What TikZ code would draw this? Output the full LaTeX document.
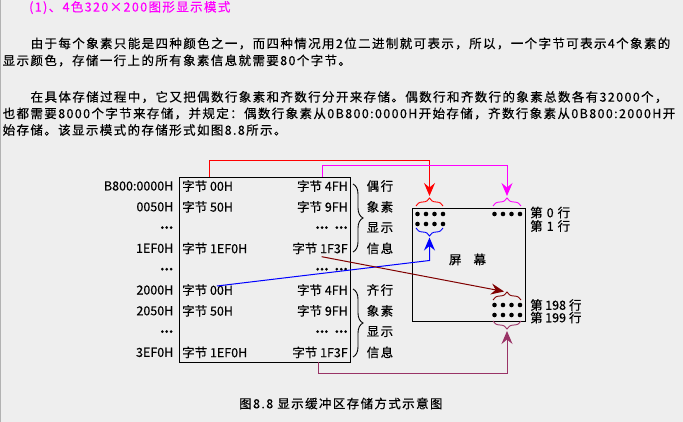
\documentclass[tikz,border=0pt]{standalone}
\usepackage{fontspec}
\setmainfont{Noto Sans CJK SC}
\newfontfamily\pfont[LetterSpace=11,FakeBold=0.4]{Noto Sans CJK SC}
\newfontfamily\dfont[FakeBold=0.4]{Noto Sans CJK SC}
\usetikzlibrary{arrows.meta,decorations.pathreplacing}
\definecolor{bg}{RGB}{238,238,238}
\definecolor{redA}{RGB}{255,0,0}
\definecolor{magA}{RGB}{255,0,255}
\definecolor{blueA}{RGB}{0,0,255}
\definecolor{maroonA}{RGB}{128,0,0}
\definecolor{plumA}{RGB}{153,51,102}
\begin{document}
\begin{tikzpicture}[x=1pt,y=-1pt,
  ptxt/.style={inner sep=0pt,anchor=west,font=\pfont\fontsize{12.5pt}{14pt}\selectfont},
  dtxt/.style={inner sep=0pt,font=\dfont\fontsize{12.5pt}{14pt}\selectfont},
  lab/.style={dtxt,anchor=east},
  inl/.style={dtxt,anchor=west},
  inr/.style={dtxt,anchor=east},
  side/.style={dtxt,anchor=west},
  boxA/.style={draw=black,line width=1pt,inner sep=0pt,anchor=north west},
  conn/.style={line width=1pt},
  tip/.style={-{Stealth[length=13pt,width=11pt,inset=4.5pt]}},
  sbrace/.style={line width=0.9pt,decorate,decoration={brace,amplitude=8pt}},
  bbrace/.style={line width=0.9pt,decorate,decoration={brace,amplitude=10pt}},
  dot/.style={fill=black}
]
\fill[bg] (0,0) rectangle (683,422);
\useasboundingbox (0,0) rectangle (683,422);
\draw[gray!60,line width=1pt] (0.5,0) -- (0.5,422);

% text
\node[ptxt,text=magA] (title) at (29,7.5) {(1)、4色320×200图形显示模式};
\node[ptxt] (p1a) at (30.5,43.5) {由于每个象素只能是四种颜色之一，而四种情况用2位二进制就可表示，所以，一个字节可表示4个象素的};
\node[ptxt] (p1b) at (2.5,60.5) {显示颜色，存储一行上的所有象素信息就需要80个字节。};
\node[ptxt] (p2a) at (30.5,97) {在具体存储过程中，它又把偶数行象素和齐数行分开来存储。偶数行和齐数行的象素总数各有32000个，};
\node[ptxt] (p2b) at (2.5,113.5) {也都需要8000个字节来存储，并规定：偶数行象素从0B800:0000H开始存储，齐数行象素从0B800:2000H开};
\node[ptxt] (p2c) at (2.5,130) {始存储。该显示模式的存储形式如图8.8所示。};

% memory box
\node[boxA,minimum width=170.5pt,minimum height=185pt] (mem) at (179,177) {};

% row labels
\node[lab] (l1) at (173.5,186) {B800:0000H};
\node[lab] (l2) at (173.5,206.8) {0050H};
\node[lab] (l3) at (173.5,227.6) {\bfseries ...};
\node[lab] (l4) at (173.5,248.4) {1EF0H};
\node[lab] (l5) at (173.5,269.2) {\bfseries ...};
\node[lab] (l6) at (173.5,290) {2000H};
\node[lab] (l7) at (173.5,310.8) {2050H};
\node[lab] (l8) at (173.5,331.6) {\bfseries ...};
\node[lab] (l9) at (173.5,352.4) {3EF0H};

\node[inl] (a1) at (182,186) {字节 00H};
\node[inl] (a2) at (182,206.8) {字节 50H};
\node[inl] (a4) at (182,248.4) {字节 1EF0H};
\node[inl] (a6) at (182,290) {字节 00H};
\node[inl] (a7) at (182,310.8) {字节 50H};
\node[inl] (a9) at (182,352.4) {字节 1EF0H};

\node[inr] (b1) at (348,186) {字节 4FH};
\node[inr] (b2) at (348,206.8) {字节 9FH};
\node[inr] (b3) at (348,227.6) {\bfseries ...\hspace{6pt}...};
\node[inr] (b4) at (348,248.4) {字节 1F3F};
\node[inr] (b5) at (348,269.2) {\bfseries ...\hspace{6pt}...};
\node[inr] (b6) at (348,290) {字节 4FH};
\node[inr] (b7) at (348,310.8) {字节 9FH};
\node[inr] (b8) at (348,331.6) {\bfseries ...\hspace{6pt}...};
\node[inr] (b9) at (348,352.4) {字节 1F3F};

% side braces and labels
\draw[bbrace] (353,184) -- (353,252);
\draw[bbrace] (353,289) -- (353,357);
\node[side] (s1) at (366.5,186) {偶\hspace{1.5pt}行};
\node[side] (s2) at (366.5,206.8) {象\hspace{1.5pt}素};
\node[side] (s3) at (366.5,227.6) {显\hspace{1.5pt}示};
\node[side] (s4) at (366.5,248.4) {信\hspace{1.5pt}息};
\node[side] (s6) at (366.5,290) {齐\hspace{1.5pt}行};
\node[side] (s7) at (366.5,310.8) {象\hspace{1.5pt}素};
\node[side] (s8) at (366.5,331.6) {显\hspace{1.5pt}示};
\node[side] (s9) at (366.5,352.4) {信\hspace{1.5pt}息};

% screen
\node[boxA,minimum width=113pt,minimum height=113pt] (scr) at (412,208) {};
\node[dtxt] (scrt) at (467.5,259.5) {屏\hspace{12pt}幕};
\foreach \x in {417.5,426,434.5,443}{
  \fill[dot] (\x,214) circle (2.3);
  \fill[dot] (\x,224) circle (2.3);
}
\foreach \x in {494.5,503,511.5,520}{
  \fill[dot] (\x,214) circle (2.3);
  \fill[dot] (\x,305) circle (2.3);
  \fill[dot] (\x,315) circle (2.3);
}
\node[side] (r0) at (530,212.5) {第\hspace{4pt}0\hspace{4pt}行};
\node[side] (r1) at (530,226) {第\hspace{4pt}1\hspace{4pt}行};
\node[side] (r198) at (530,305) {第\hspace{2.5pt}198\hspace{3pt}行};
\node[side] (r199) at (530,317.5) {第\hspace{2.5pt}199\hspace{3pt}行};

% small braces
\draw[sbrace,redA] (416,206) -- (443,206);
\draw[sbrace,magA] (493,206) -- (521,206);
\draw[sbrace,blueA] (443,228) -- (416,228);
\draw[sbrace,maroonA] (493,300) -- (521,300);
\draw[sbrace,plumA] (521,321) -- (493,321);

% coordinates
\coordinate (redS) at (209.3,177);
\coordinate (redC) at (429.5,160.7);
\coordinate (redT) at (429.5,196);
\coordinate (magS) at (322.3,177);
\coordinate (magC) at (507,166);
\coordinate (magT) at (507,196);
\coordinate (bluS) at (217,286);
\coordinate (bluC) at (429.5,260.5);
\coordinate (bluT) at (429.5,237.5);
\coordinate (marS) at (321.7,256.7);
\coordinate (marT) at (504,291.5);
\coordinate (pluS) at (318.3,362);
\coordinate (pluC) at (507,373.3);
\coordinate (pluT) at (507,331);

% connectors
\draw[conn,redA,tip] (redS) |- (redC) -- (redT);
\draw[conn,magA,tip] (magS) |- (magC) -- (magT);
\draw[conn,blueA,tip] (bluS) -- (bluC) -- (bluT);
\draw[conn,maroonA,tip] (marS) -- (marT);
\draw[conn,plumA,tip] (pluS) |- (pluC) -- (pluT);

% caption
\node[ptxt] (cap) at (239,403.5) {图8.8 显示缓冲区存储方式示意图};
\end{tikzpicture}
\end{document}
